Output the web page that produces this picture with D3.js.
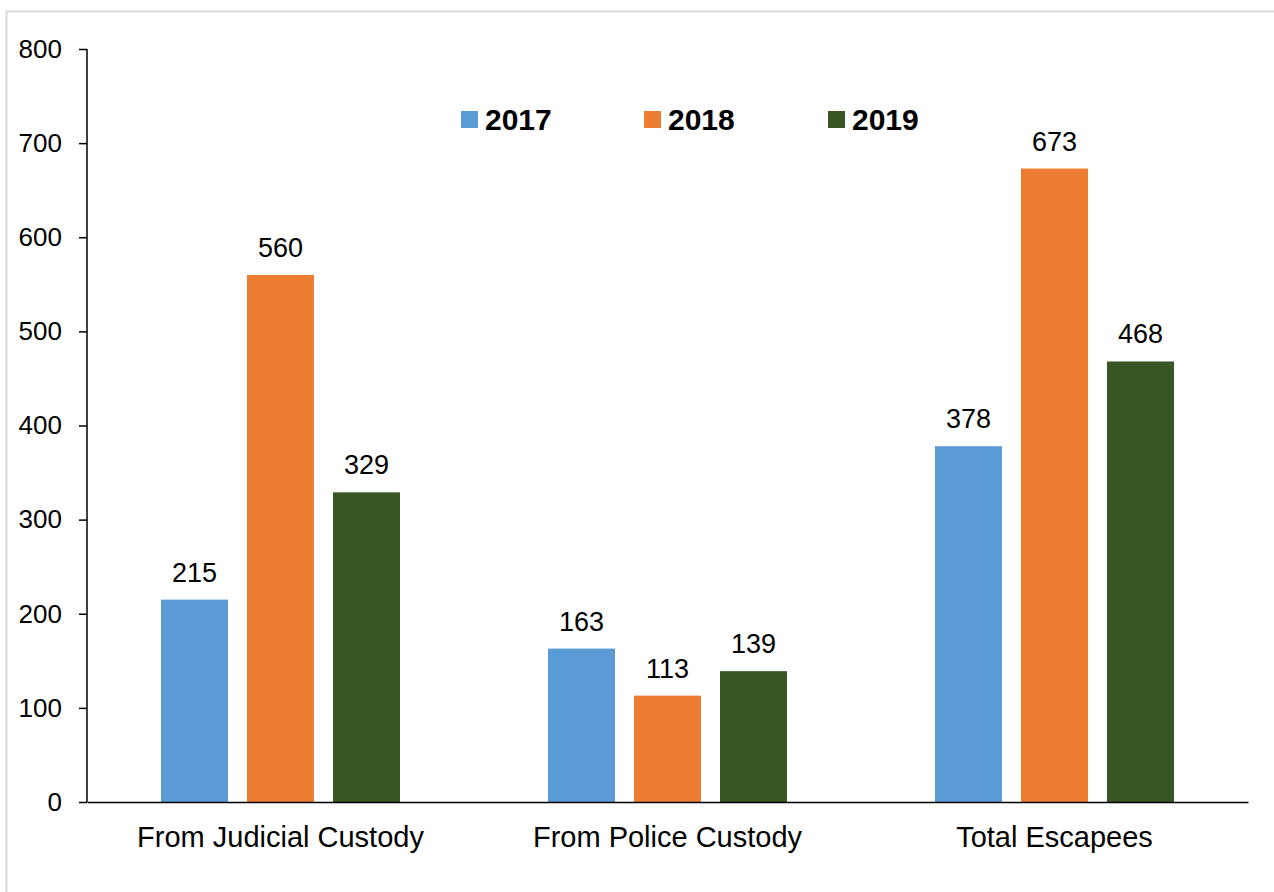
<!DOCTYPE html>
<html>
<head>
<meta charset="utf-8">
<script src="https://cdn.jsdelivr.net/npm/d3@7"></script>
<style>
  body { margin: 0; background: #fff; }
  svg { display: block; font-family: "Liberation Sans", Arial, sans-serif; }
</style>
</head>
<body>
<div id="chart"></div>
<script>
// --- data ---
const categories = ["From Judicial Custody", "From Police Custody", "Total Escapees"];
const years = ["2017", "2018", "2019"];
const values2017 = [215, 163, 378];
const values2018 = [560, 113, 673];
const values2019 = [329, 139, 468];
const yTicks = [0, 100, 200, 300, 400, 500, 600, 700, 800];
const colors = ["#5B9BD5", "#ED7D31", "#375623"];

const width = 1274, height = 892;
const margin = { top: 49, right: 26, bottom: 90, left: 87 };
const innerW = width - margin.left - margin.right;
const innerH = height - margin.top - margin.bottom;

const svg = d3.select("#chart").append("svg")
  .attr("width", width)
  .attr("height", height);

// light outer frame
svg.append("rect")
  .attr("x", 6.5).attr("y", 11.5)
  .attr("width", 1275).attr("height", 890)
  .attr("fill", "none")
  .attr("stroke", "#d9d9d9")
  .attr("stroke-width", 2);

const g = svg.append("g").attr("transform", `translate(${margin.left},${margin.top})`);

const x0 = d3.scaleBand().domain(categories).range([0, innerW]).padding(0);
const y = d3.scaleLinear().domain([0, 800]).range([innerH, 0]);

const series = [values2017, values2018, values2019];
const rows = categories.map((c, i) => ({
  cat: c,
  vals: years.map((yr, j) => ({ year: yr, value: series[j][i], j }))
}));

// bars laid out in the middle of each band: step 86, width 67
const x1 = d3.scaleBand().domain(years).range([0, 86 * 3]).paddingInner(19 / 86).paddingOuter(19 / 172);

const groups = g.selectAll("g.cat")
  .data(rows)
  .join("g")
  .attr("class", "cat")
  .attr("transform", d => `translate(${x0(d.cat) + x0.bandwidth() / 2 - 129},0)`);

groups.selectAll("rect")
  .data(d => d.vals)
  .join("rect")
  .attr("x", d => x1(d.year))
  .attr("y", d => y(d.value))
  .attr("width", x1.bandwidth())
  .attr("height", d => innerH - y(d.value))
  .attr("fill", d => colors[d.j]);

groups.selectAll("text.val")
  .data(d => d.vals)
  .join("text")
  .attr("class", "val")
  .attr("x", d => x1(d.year) + x1.bandwidth() / 2)
  .attr("y", d => y(d.value) - 18)
  .attr("text-anchor", "middle")
  .attr("font-size", 27)
  .attr("fill", "#000")
  .text(d => d.value);

// y axis
const yAxis = g.append("g")
  .call(d3.axisLeft(y).tickValues(yTicks).tickSize(8).tickPadding(17));
yAxis.select(".domain").attr("stroke", "#000").attr("stroke-width", 1.5)
  .attr("d", `M0,${innerH}V0`);
yAxis.selectAll(".tick line").attr("stroke", "#000").attr("stroke-width", 1.5);
yAxis.selectAll(".tick text")
  .attr("font-size", 26)
  .attr("fill", "#000")
  .attr("font-family", "Liberation Sans, Arial, sans-serif");

// x axis
const xAxis = g.append("g")
  .attr("transform", `translate(0,${innerH})`)
  .call(d3.axisBottom(x0).tickSize(0).tickPadding(24));
xAxis.select(".domain").attr("stroke", "#000").attr("stroke-width", 1.5);
xAxis.selectAll(".tick text")
  .attr("font-size", 29)
  .attr("fill", "#000")
  .attr("font-family", "Liberation Sans, Arial, sans-serif");

// legend
const legendX = [461, 644, 828];
const legend = svg.append("g");
years.forEach((yr, i) => {
  legend.append("rect")
    .attr("x", legendX[i]).attr("y", 111)
    .attr("width", 17).attr("height", 17)
    .attr("fill", colors[i]);
  legend.append("text")
    .attr("x", legendX[i] + 24).attr("y", 130)
    .attr("font-size", 30)
    .attr("font-weight", "bold")
    .attr("fill", "#000")
    .text(yr);
});
</script>
</body>
</html>
